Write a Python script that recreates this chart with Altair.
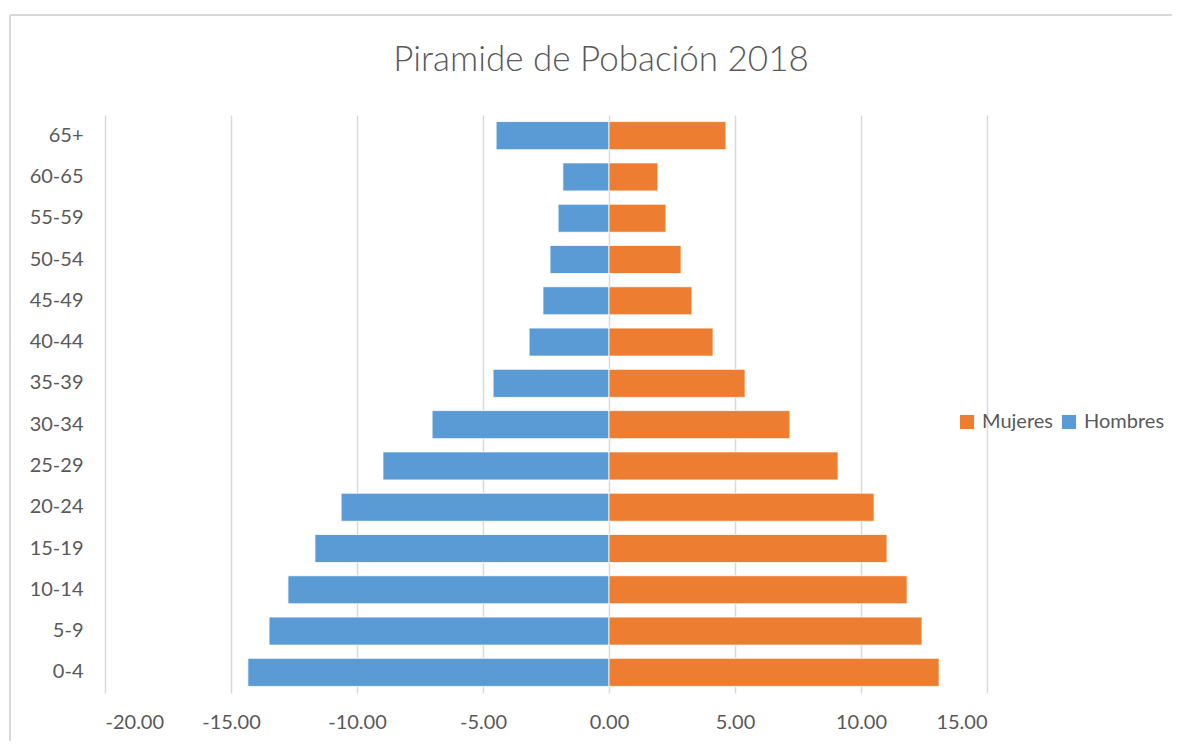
import altair as alt
import pandas as pd

groups = ["0-4", "5-9", "10-14", "15-19", "20-24", "25-29", "30-34",
          "35-39", "40-44", "45-49", "50-54", "55-59", "60-65", "65+"]
hombres = [14.33, 13.49, 12.74, 11.67, 10.63, 8.97, 7.02,
           4.60, 3.17, 2.62, 2.34, 2.02, 1.83, 4.48]
mujeres = [13.10, 12.42, 11.83, 11.03, 10.52, 9.09, 7.18,
           5.40, 4.13, 3.29, 2.86, 2.26, 1.94, 4.64]
title_text = ["Piramide de Pobación 2018"]

rows = []
for g, h, m in zip(groups, hombres, mujeres):
    rows.append({"grupo": g, "sexo": "Hombres", "valor": -h})
    rows.append({"grupo": g, "sexo": "Mujeres", "valor": m})
df = pd.DataFrame(rows)

order = list(reversed(groups))
FONT = "Lato"
GREY = "#595959"

bars = alt.Chart(df).mark_bar(stroke="white", strokeWidth=0.8).encode(
    x=alt.X("valor:Q",
            scale=alt.Scale(domain=[-20, 15], nice=False, zero=False),
            axis=alt.Axis(values=[-20, -15, -10, -5, 0, 5, 10, 15],
                          labelExpr="replace(format(datum.value, '.2f'), '\u2212', '-')",
                          title=None, domain=False, ticks=False,
                          grid=True, gridColor="#D9D9D9", gridWidth=1.5,
                          labelPadding=19, labelFontSize=20, labelColor=GREY,
                          labelFont=FONT)),
    y=alt.Y("grupo:N", sort=order,
            scale=alt.Scale(paddingInner=0.32, paddingOuter=0.16),
            axis=alt.Axis(title=None, domain=False, ticks=False, grid=False,
                          labelPadding=22, labelFontSize=20, labelColor=GREY,
                          labelFont=FONT)),
    color=alt.Color("sexo:N",
                    scale=alt.Scale(domain=["Mujeres", "Hombres"],
                                    range=["#ED7D31", "#5B9BD5"]),
                    legend=alt.Legend(title=None, orient="none",
                                      legendX=852, legendY=297,
                                      direction="horizontal", columns=2,
                                      symbolType="square", symbolSize=200,
                                      symbolStrokeWidth=0, padding=0,
                                      labelFontSize=20, labelColor=GREY,
                                      labelFont=FONT, labelOffset=5,
                                      columnPadding=6)),
)

frame_top = alt.Chart(df).mark_rule(color="#D9D9D9", strokeWidth=1.5).encode(
    x=alt.value(-95), x2=alt.value(1200), y=alt.value(-100))
frame_left = alt.Chart(df).mark_rule(color="#D9D9D9", strokeWidth=1.5).encode(
    x=alt.value(-95), y=alt.value(-100), y2=alt.value(700))

title = alt.Chart(pd.DataFrame({"t": title_text})).mark_text(
    font=FONT, fontSize=35, fontWeight=300, color=GREY,
    align="center", baseline="middle").encode(
    text="t:N", x=alt.value(496), y=alt.value(-55))

chart = alt.layer(frame_top, frame_left, title, bars).properties(
    width=882, height=578,
    autosize=alt.AutoSizeParams(type="none"),
    padding={"left": 97, "top": 107, "right": 185, "bottom": 48},
).configure_view(stroke=None)

chart.save("out.html", embed_options={"renderer": "svg", "actions": False})
